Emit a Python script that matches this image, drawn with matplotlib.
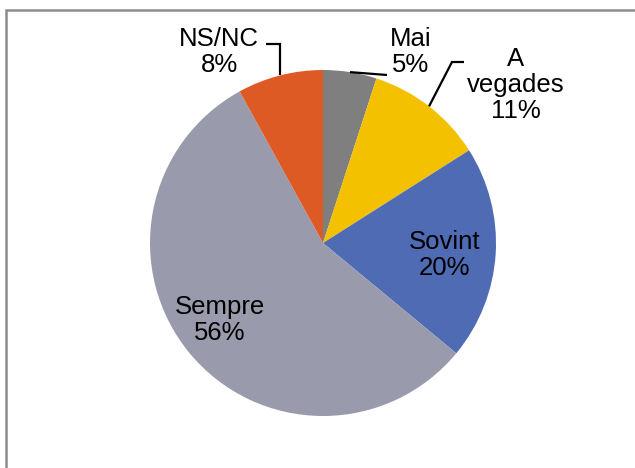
import numpy as np
import matplotlib
matplotlib.use("Agg")
import matplotlib.pyplot as plt
from matplotlib.patches import Rectangle

categories = ["Mai", "A\nvegades", "Sovint", "Sempre", "NS/NC"]
values = [5, 11, 20, 56, 8]
colors = ["#7f7f7f", "#f4c100", "#4f6bb3", "#999aac", "#de5a24"]

W, H = 635, 468
fig = plt.figure(figsize=(W / 100, H / 100), dpi=100)
fig.patch.set_facecolor("white")

# chart frame
fig.patches.append(Rectangle((6 / W, -0.1), 1.2, 1 - 10 / H + 0.1, transform=fig.transFigure,
                             fill=False, edgecolor="#8c8c8c", linewidth=1.8, zorder=0))

ax = fig.add_axes([0, 0, 1, 1])
cx, cy, R = 323, H - 243, 173
wedges, _ = ax.pie(values, colors=colors, startangle=90, counterclock=False,
                   center=(cx, cy), radius=R, wedgeprops=dict(linewidth=0),
                   frame=True)
ax.set_xlim(0, W)
ax.set_ylim(0, H)
ax.set_aspect("equal")
ax.axis("off")

total = sum(values)
labels = [f"{c}\n{round(v / total * 100)}%" for c, v in zip(categories, values)]

font = dict(family=["Liberation Sans", "DejaVu Sans"], fontsize=18.5, color="black",
            ha="center", va="center", linespacing=1.12)

label_pos = [(411, 52), (516, 85), (445, 255), (220, 320), (219, 52)]
for lab, (x, y) in zip(labels, label_pos):
    ax.text(x, H - y, lab, **font)

def edge_mid(w):
    a = np.deg2rad((w.theta1 + w.theta2) / 2)
    return cx + R * np.cos(a), cy + R * np.sin(a)

lk = dict(color="black", linewidth=1.6, solid_capstyle="butt", solid_joinstyle="miter")
# Mai
x0, y0 = edge_mid(wedges[0])
ax.plot([x0, 387], [y0, H - 75], **lk)
# A vegades
x0, y0 = edge_mid(wedges[1])
ax.plot([x0, 452, 464], [y0, H - 62, H - 62], **lk)
# NS/NC
x0, y0 = edge_mid(wedges[4])
ax.plot([x0, x0, 266], [y0, H - 44, H - 44], **lk)

fig.savefig("out.png", dpi=100, facecolor="white")
